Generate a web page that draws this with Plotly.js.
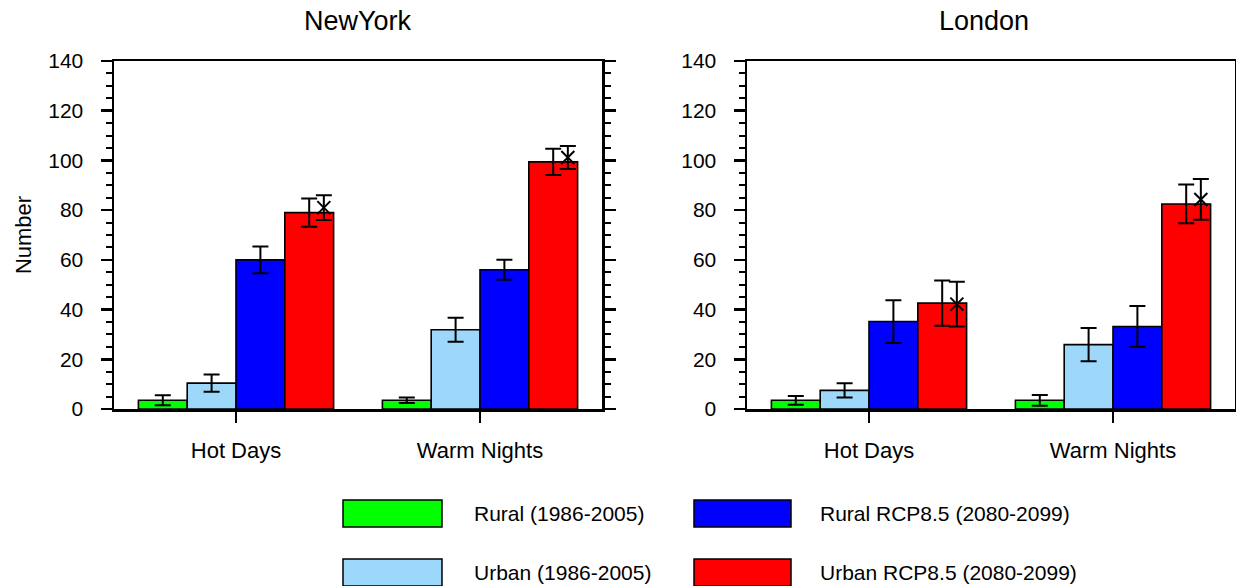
<!DOCTYPE html>
<html>
<head>
<meta charset="utf-8">
<script src="https://cdn.plot.ly/plotly-3.0.1.min.js"></script>
<style>html,body{margin:0;padding:0;background:#fff;}#chart{width:1236px;height:586px;}</style>
</head>
<body>
<div id="chart"></div>
<script>
// ---------------- data ----------------
const categories = ['Hot Days', 'Warm Nights'];
const cities = ['NewYork', 'London'];
const seriesNames = ['Rural (1986-2005)', 'Urban (1986-2005)', 'Rural RCP8.5 (2080-2099)', 'Urban RCP8.5 (2080-2099)'];
const seriesColors = ['#00ff00', '#9dd8fb', '#0000ff', '#ff0000'];

// NewYork
const nyRural = [3.5, 3.5];
const nyRuralErr = [2.0, 1.1];
const nyUrban = [10.4, 31.9];
const nyUrbanErr = [3.5, 4.8];
const nyRuralRcp = [60.0, 56.0];
const nyRuralRcpErr = [5.4, 4.0];
const nyUrbanRcp = [79.0, 99.4];
const nyUrbanRcpErr = [5.7, 5.3];
const nyUrbanAlt = [81.0, 101.2];
const nyUrbanAltErr = [5.0, 4.6];

// London
const ldRural = [3.5, 3.5];
const ldRuralErr = [1.75, 2.15];
const ldUrban = [7.5, 25.9];
const ldUrbanErr = [2.9, 6.7];
const ldRuralRcp = [35.2, 33.2];
const ldRuralRcpErr = [8.6, 8.2];
const ldUrbanRcp = [42.6, 82.5];
const ldUrbanRcpErr = [9.1, 7.8];
const ldUrbanAlt = [42.2, 84.3];
const ldUrbanAltErr = [9.0, 8.2];

const yTicks = [0, 20, 40, 60, 80, 100, 120, 140];

// ---------------- build ----------------
const W = 1236, H = 586;
const px = v => v / W;
const py = v => 1 - v / H;
const FONT = 'Liberation Sans, Arial, Helvetica, sans-serif';
const catIdx = categories.map((c, i) => i);
const ALT_OFFSET = 0.36;

const panels = [
  { vals: [nyRural, nyUrban, nyRuralRcp, nyUrbanRcp], errs: [nyRuralErr, nyUrbanErr, nyRuralRcpErr, nyUrbanRcpErr], alt: nyUrbanAlt, altErr: nyUrbanAltErr, xa: 'x', ya: 'y' },
  { vals: [ldRural, ldUrban, ldRuralRcp, ldUrbanRcp], errs: [ldRuralErr, ldUrbanErr, ldRuralRcpErr, ldUrbanRcpErr], alt: ldUrbanAlt, altErr: ldUrbanAltErr, xa: 'x2', ya: 'y2' }
];

const traces = [];
panels.forEach((p, pi) => {
  p.vals.forEach((v, si) => {
    traces.push({
      type: 'bar', x: catIdx, y: v, name: seriesNames[si], xaxis: p.xa, yaxis: p.ya,
      marker: { color: seriesColors[si], line: { color: '#000', width: 1.6 } },
      error_y: { type: 'data', array: p.errs[si], visible: true, color: '#000', thickness: 2, width: 8 },
      showlegend: false, hoverinfo: 'y'
    });
  });
  traces.push({
    type: 'scatter', mode: 'markers', x: catIdx.map(i => i + ALT_OFFSET), y: p.alt, xaxis: p.xa, yaxis: p.ya,
    marker: { symbol: 'x-thin', size: 13, color: '#000', line: { color: '#000', width: 2 } },
    error_y: { type: 'data', array: p.altErr, visible: true, color: '#000', thickness: 2, width: 8 },
    showlegend: false, hoverinfo: 'y'
  });
});

function xAxis(domain, anchor) {
  return {
    domain: domain, anchor: anchor, range: [-0.5, 1.5], tickmode: 'array', tickvals: catIdx, ticktext: categories,
    ticks: 'outside', ticklen: 11, tickwidth: 2.5, tickcolor: '#000',
    showline: true, linewidth: 2.5, linecolor: '#000', mirror: true,
    showgrid: false, zeroline: false, fixedrange: true,
    tickfont: { family: FONT, size: 22, color: '#000' }, ticklabelstandoff: 9
  };
}
function yAxis(anchor, withTitle) {
  const a = {
    domain: [py(409), py(61)], anchor: anchor, range: [0, 140], tickmode: 'array', tickvals: yTicks,
    ticks: 'outside', ticklen: 11, tickwidth: 2.5, tickcolor: '#000',
    minor: { dtick: 5, ticks: 'outside', ticklen: 6, tickwidth: 2, tickcolor: '#000', showgrid: false },
    showline: true, linewidth: 2.5, linecolor: '#000', mirror: 'ticks',
    showgrid: false, zeroline: false, fixedrange: true,
    tickfont: { family: FONT, size: 21, color: '#000' }, ticklabelstandoff: 13
  };
  if (withTitle) a.title = { text: 'Number', font: { family: FONT, size: 22, color: '#000' }, standoff: 11 };
  return a;
}

const annotations = [
  { text: cities[0], x: px(358), y: py(21), xref: 'paper', yref: 'paper', xanchor: 'center', yanchor: 'middle', showarrow: false, font: { family: FONT, size: 27, color: '#000' } },
  { text: cities[1], x: px(984), y: py(21), xref: 'paper', yref: 'paper', xanchor: 'center', yanchor: 'middle', showarrow: false, font: { family: FONT, size: 27, color: '#000' } }
];
const shapes = [];
// legend: 2 columns x 2 rows
const legCols = [{ rx0: 343, rx1: 442, tx: 472 }, { rx0: 694, rx1: 791, tx: 818 }];
const legRows = [{ y0: 500, y1: 527, ty: 513 }, { y0: 559, y1: 586, ty: 572 }];
seriesNames.forEach((n, si) => {
  const c = legCols[Math.floor(si / 2)], r = legRows[si % 2];
  shapes.push({ type: 'rect', xref: 'paper', yref: 'paper', x0: px(c.rx0), x1: px(c.rx1), y0: py(r.y1), y1: py(r.y0), fillcolor: seriesColors[si], line: { color: '#000', width: 1.5 } });
  annotations.push({ text: n, x: px(c.tx), y: py(r.ty), xref: 'paper', yref: 'paper', xanchor: 'left', yanchor: 'middle', showarrow: false, font: { family: FONT, size: 21, color: '#000' } });
});

const layout = {
  width: W, height: H, margin: { l: 0, r: 0, t: 0, b: 0 },
  paper_bgcolor: '#fff', plot_bgcolor: '#fff',
  barmode: 'group', bargap: 0.2, bargroupgap: 0,
  showlegend: false,
  xaxis: xAxis([px(114), px(602)], 'y'),
  yaxis: yAxis('x', true),
  xaxis2: xAxis([px(747), px(1235)], 'y2'),
  yaxis2: yAxis('x2', false),
  annotations: annotations, shapes: shapes,
  font: { family: FONT, color: '#000' }
};

Plotly.newPlot('chart', traces, layout, { displayModeBar: false, staticPlot: true });
</script>
</body>
</html>
